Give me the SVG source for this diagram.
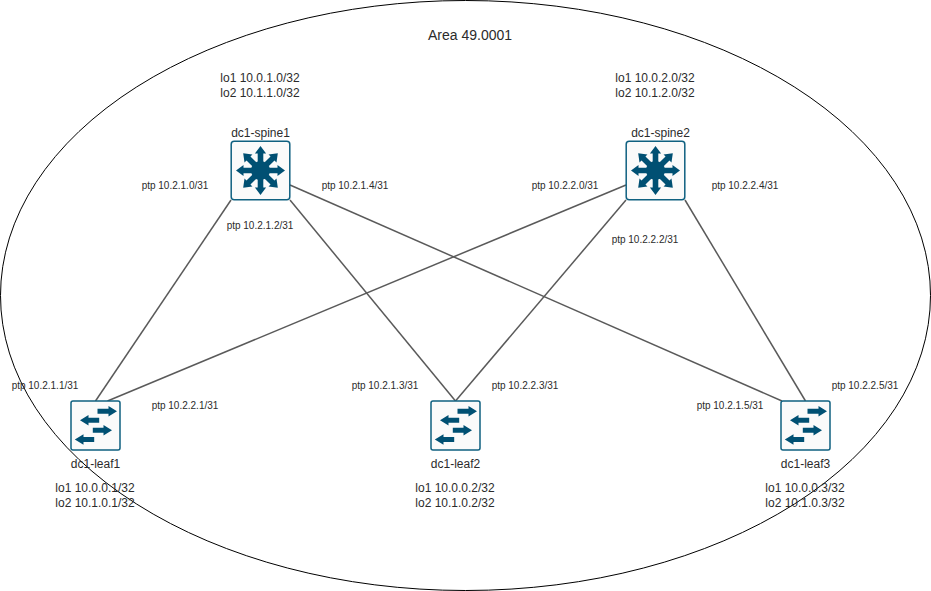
<svg xmlns="http://www.w3.org/2000/svg" width="931" height="591" viewBox="0 0 931 591">
<style>
text{font-family:"Liberation Sans",Arial,sans-serif;fill:#2b2b2b;text-anchor:middle}
.n{font-size:12px}.p{font-size:10px}.a{font-size:14px}
.link{stroke:#5a5a5a;stroke-width:1.5;fill:none}
.box{fill:#fafafa;stroke:#0f6080;stroke-width:1.5}
.g{fill:#005073}
</style>
<defs>
<path id="sp-arrow" class="g" d="M2.800,-8V-17H5.600L0,-24.500L-5.600,-17H-2.800V-8Z"/>
<g id="spine">
<rect class="box" x="-29.300" y="-29.300" width="58.600" height="58.600" rx="3"/>
<circle class="g" cx="0" cy="0" r="9.500"/>
<use href="#sp-arrow"/><use href="#sp-arrow" transform="rotate(45)"/><use href="#sp-arrow" transform="rotate(90)"/><use href="#sp-arrow" transform="rotate(135)"/><use href="#sp-arrow" transform="rotate(180)"/><use href="#sp-arrow" transform="rotate(225)"/><use href="#sp-arrow" transform="rotate(270)"/><use href="#sp-arrow" transform="rotate(315)"/>
</g>
<g id="leaf">
<rect class="box" x="-24.500" y="-24.500" width="49" height="49" rx="2"/>
<path class="g" d="M2,-16.800H13V-19.500L21.500,-14.300L13,-9.100V-11.800H2Z"/>
<path class="g" d="M3.700,-7.800H-7V-10.500L-15.500,-5.300L-7,-0.100V-2.800H3.700Z"/>
<path class="g" d="M-2.700,2.200H8V-0.500L16.500,4.700L8,9.900V7.200H-2.700Z"/>
<path class="g" d="M-1.300,11.500H-12V8.800L-20.700,14L-12,19.200V16.500H-1.300Z"/>
</g>
</defs>
<ellipse cx="465.500" cy="295.500" rx="465" ry="295" fill="none" stroke="#000" stroke-width="1"/>
<text class="a" x="470" y="40">Area 49.0001</text>
<g id="connectors">
<line class="link" x1="231" y1="200" x2="95.500" y2="401"/>
<line class="link" x1="290" y1="200" x2="455.500" y2="401"/>
<line class="link" x1="290" y1="185" x2="782" y2="401"/>
<line class="link" x1="626" y1="185" x2="107.500" y2="401"/>
<line class="link" x1="626" y1="200" x2="455.500" y2="401"/>
<line class="link" x1="685" y1="200" x2="805.500" y2="401"/>
</g>
<g id="dc1-spine1"><use href="#spine" x="260.500" y="170.500"/><text class="n" x="260.500" y="137">dc1-spine1</text><text class="n" x="260" y="82">lo1 10.0.1.0/32</text><text class="n" x="260" y="97">lo2 10.1.1.0/32</text></g>
<g id="dc1-spine2"><use href="#spine" x="655.500" y="170.500"/><text class="n" x="660.500" y="137">dc1-spine2</text><text class="n" x="655" y="82">lo1 10.0.2.0/32</text><text class="n" x="655" y="97">lo2 10.1.2.0/32</text></g>
<g id="dc1-leaf1"><use href="#leaf" x="95.500" y="425.500"/><text class="n" x="95.500" y="468">dc1-leaf1</text><text class="n" x="95" y="492">lo1 10.0.0.1/32</text><text class="n" x="95" y="507">lo2 10.1.0.1/32</text></g>
<g id="dc1-leaf2"><use href="#leaf" x="455.500" y="425.500"/><text class="n" x="455.500" y="468">dc1-leaf2</text><text class="n" x="455" y="492">lo1 10.0.0.2/32</text><text class="n" x="455" y="507">lo2 10.1.0.2/32</text></g>
<g id="dc1-leaf3"><use href="#leaf" x="805.500" y="425.500"/><text class="n" x="805.500" y="468">dc1-leaf3</text><text class="n" x="805" y="492">lo1 10.0.0.3/32</text><text class="n" x="805" y="507">lo2 10.1.0.3/32</text></g>
<g id="labels">
<text class="p" x="175" y="189">ptp 10.2.1.0/31</text>
<text class="p" x="260" y="229">ptp 10.2.1.2/31</text>
<text class="p" x="355" y="189">ptp 10.2.1.4/31</text>
<text class="p" x="565" y="189">ptp 10.2.2.0/31</text>
<text class="p" x="645" y="243">ptp 10.2.2.2/31</text>
<text class="p" x="745" y="189">ptp 10.2.2.4/31</text>
<text class="p" x="45" y="389">ptp 10.2.1.1/31</text>
<text class="p" x="185" y="409">ptp 10.2.2.1/31</text>
<text class="p" x="385" y="389">ptp 10.2.1.3/31</text>
<text class="p" x="525" y="389">ptp 10.2.2.3/31</text>
<text class="p" x="730" y="409">ptp 10.2.1.5/31</text>
<text class="p" x="865" y="389">ptp 10.2.2.5/31</text>
</g>
</svg>
